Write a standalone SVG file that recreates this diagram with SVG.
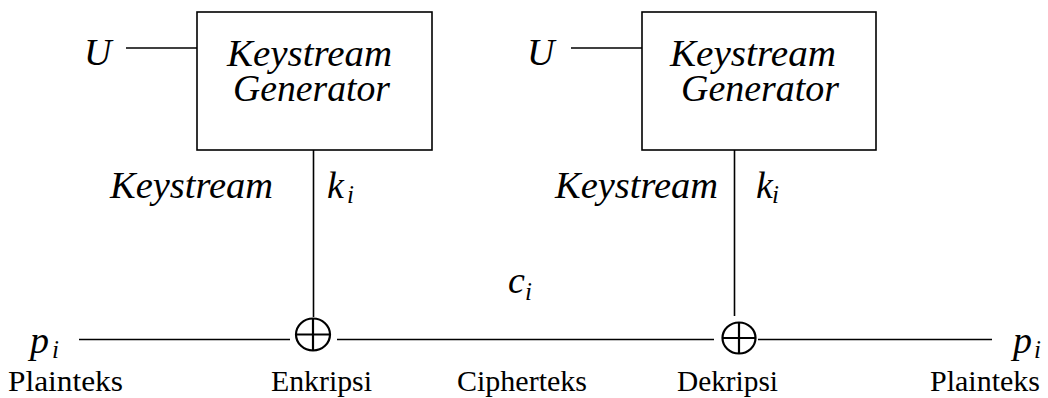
<svg xmlns="http://www.w3.org/2000/svg" width="1048" height="398" viewBox="0 0 1048 398">
<style>
text{font-family:'Liberation Serif','Times New Roman',serif;fill:#000}
.it{font-style:italic}
.big{font-size:38px}
.sub{font-size:25px}
.lab{font-size:30px}
.ln{stroke:#000;stroke-width:1.6;fill:none}
.box{stroke:#000;stroke-width:1.6;fill:#fff}
.xor{stroke:#000;stroke-width:2.2;fill:none}
</style>
<rect width="1048" height="398" fill="#fff"/>
<g id="connectors">
<line class="ln" x1="126" y1="48" x2="197" y2="48"/>
<line class="ln" x1="571" y1="48" x2="642" y2="48"/>
<line class="ln" x1="313.5" y1="150" x2="313.5" y2="317"/>
<line class="ln" x1="734.5" y1="150" x2="734.5" y2="316"/>
<line class="ln" x1="79" y1="339.5" x2="290" y2="339.5"/>
<line class="ln" x1="337" y1="339.5" x2="714" y2="339.5"/>
<line class="ln" x1="758" y1="339.5" x2="992" y2="339.5"/>
</g>
<g id="gen1">
<rect class="box" x="197" y="12" width="235" height="138"/>
<text class="it big" x="227" y="66" textLength="165" lengthAdjust="spacingAndGlyphs">Keystream</text>
<text class="it big" x="233" y="101" textLength="157" lengthAdjust="spacingAndGlyphs">Generator</text>
</g>
<g id="gen2">
<rect class="box" x="642" y="12" width="234" height="138"/>
<text class="it big" x="670" y="66" textLength="166" lengthAdjust="spacingAndGlyphs">Keystream</text>
<text class="it big" x="681" y="101" textLength="158" lengthAdjust="spacingAndGlyphs">Generator</text>
</g>
<g id="u1"><text class="it big" x="84" y="65">U</text></g>
<g id="u2"><text class="it big" x="527" y="65">U</text></g>
<g id="ks1">
<text class="it big" x="110" y="198" textLength="163" lengthAdjust="spacingAndGlyphs">Keystream</text>
<text class="it big" x="327" y="198">k</text><text class="it sub" x="347" y="203">i</text>
</g>
<g id="ks2">
<text class="it big" x="555" y="198" textLength="163" lengthAdjust="spacingAndGlyphs">Keystream</text>
<text class="it big" x="756" y="198">k</text><text class="it sub" x="772" y="203">i</text>
</g>
<g id="xor1">
<ellipse class="xor" cx="313" cy="334.5" rx="17" ry="16"/>
<line class="xor" x1="296" y1="334.5" x2="330" y2="334.5"/>
<line class="xor" x1="313" y1="318.5" x2="313" y2="350.5"/>
</g>
<g id="xor2">
<ellipse class="xor" cx="739" cy="338" rx="16.5" ry="15.5"/>
<line class="xor" x1="722.5" y1="338" x2="755.5" y2="338"/>
<line class="xor" x1="739" y1="322.5" x2="739" y2="353.5"/>
</g>
<g id="pin">
<text class="it big" x="30" y="353">p</text><text class="it sub" x="52" y="358">i</text>
<text class="lab" x="8" y="391" textLength="115" lengthAdjust="spacingAndGlyphs">Plainteks</text>
</g>
<g id="enc"><text class="lab" x="271" y="391" textLength="101" lengthAdjust="spacingAndGlyphs">Enkripsi</text></g>
<g id="ci">
<text class="it big" x="508" y="293">c</text><text class="it sub" x="525" y="300">i</text>
<text class="lab" x="457" y="391" textLength="130" lengthAdjust="spacingAndGlyphs">Cipherteks</text>
</g>
<g id="dec"><text class="lab" x="677" y="391" textLength="101" lengthAdjust="spacingAndGlyphs">Dekripsi</text></g>
<g id="pout">
<text class="it big" x="1013" y="353">p</text><text class="it sub" x="1034" y="358">i</text>
<text class="lab" x="930" y="391" textLength="110" lengthAdjust="spacingAndGlyphs">Plainteks</text>
</g>
</svg>
